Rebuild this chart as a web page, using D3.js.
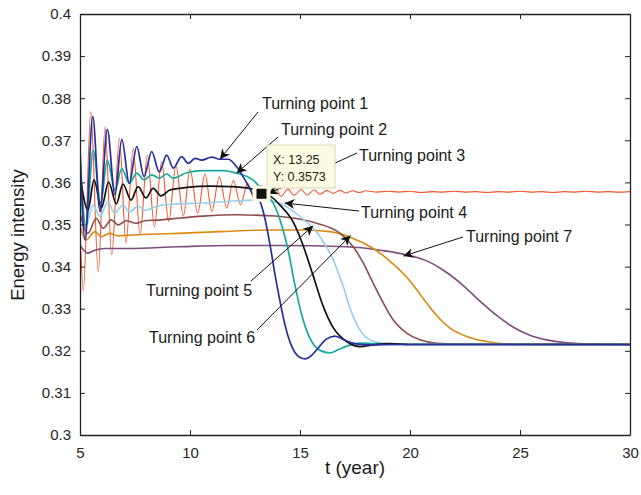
<!DOCTYPE html>
<html>
<head>
<meta charset="utf-8">
<script src="https://cdnjs.cloudflare.com/ajax/libs/d3/7.8.5/d3.min.js"></script>
<style>
  body { margin: 0; background: #fff; }
  svg { display: block; font-family: "Liberation Sans", Arial, sans-serif; }
</style>
</head>
<body>
<script>
var width = 641, height = 495;
var margin = {left: 80, top: 14, right: 11, bottom: 60};

// tick values
var xTicks = [5, 10, 15, 20, 25, 30];
var yTicks = [0.3, 0.31, 0.32, 0.33, 0.34, 0.35, 0.36, 0.37, 0.38, 0.39, 0.4];

// series, [t, energy intensity]
var redLine = [[5.0,0.349],[5.15,0.3342],[5.49,0.3768],[5.83,0.3388],[6.14,0.3732],[6.44,0.3428],[6.79,0.3705],
  [7.09,0.3456],[7.42,0.3681],[7.73,0.3475],[8.06,0.3665],[8.38,0.3495],[8.71,0.3649],[9.03,0.3507],[9.36,0.3639],
  [9.7,0.3520],[10.0,0.3631],[10.35,0.3527],[10.68,0.3620],[10.99,0.3531],[11.33,0.3613],[11.67,0.3539],
  [11.97,0.3605],[12.3,0.3547],[12.62,0.3598],[12.92,0.3559],[13.22,0.3593],[13.55,0.3566],[13.86,0.3587],
  [14.14,0.3567],[14.45,0.3584],[14.73,0.3569],[15.05,0.3583],[15.32,0.3570],[15.64,0.3582],[15.91,0.3572],
  [16.23,0.3581],[16.5,0.3574],[16.82,0.3581],[17.09,0.3575],[17.41,0.3580],[17.68,0.3576],[18.0,0.3580],
  [18.5,0.3577],[19.0,0.3579],[19.5,0.3577],[20.0,0.3579],[20.5,0.3576],[21.0,0.3578],[21.5,0.3577],[22.0,0.3579],
  [22.5,0.3577],[23.0,0.3578],[23.5,0.3576],[24.0,0.3578],[24.5,0.3577],[25.0,0.3579],[25.5,0.3577],[26.0,0.3578],
  [26.5,0.3576],[27.0,0.3578],[27.5,0.3577],[28.0,0.3579],[28.5,0.3577],[29.0,0.3578],[29.5,0.3577],[30.0,0.3578]];

var blueLine = [[5.0,0.368],[5.23,0.3463],[5.58,0.3756],[5.91,0.3531],[6.24,0.3726],[6.59,0.3570],[6.9,0.3702],
  [7.24,0.3598],[7.58,0.3685],[7.91,0.3614],[8.26,0.3673],[8.6,0.3625],[8.94,0.3665],[9.24,0.3634],[9.62,0.3661],
  [9.92,0.3645],[10.23,0.3657],[10.53,0.3653],[10.99,0.3660],[11.36,0.3655],[11.74,0.3655],[12.12,0.3637],
  [12.5,0.3606],[12.88,0.3570],[13.18,0.3555],[13.41,0.3513],[13.64,0.3451],[13.86,0.3382],[14.09,0.3318],
  [14.32,0.3261],[14.55,0.3220],[14.77,0.3196],[15.0,0.3184],[15.23,0.3181],[15.45,0.3186],[15.82,0.3206],
  [16.18,0.3227],[16.59,0.3235],[17.05,0.3225],[17.5,0.3217],[18.18,0.3214],[19.55,0.3215],[30.0,0.3215]];

var tealLine = [[5.0,0.3665],[5.27,0.3495],[5.6,0.3677],[5.94,0.3551],[6.24,0.3653],[6.59,0.3582],[6.9,0.3633],
  [7.24,0.3598],[7.58,0.3622],[7.91,0.3606],[8.26,0.3618],[8.6,0.3610],[8.94,0.3620],[9.24,0.3610],[9.85,0.3623],
  [10.6,0.3628],[11.51,0.3628],[12.12,0.3622],[12.73,0.3610],[12.95,0.3602],[13.26,0.3582],[13.49,0.3570],
  [13.79,0.3550],[14.09,0.3511],[14.47,0.3437],[14.77,0.3356],[15.08,0.3285],[15.45,0.3230],[15.91,0.3201],
  [16.36,0.3195],[16.75,0.3203],[17.12,0.3211],[17.73,0.3218],[18.49,0.3217],[19.55,0.3215],[30.0,0.3215]];

var blackLine = [[5.0,0.3618],[5.36,0.3534],[5.64,0.3606],[5.97,0.3539],[6.3,0.3601],[6.65,0.3549],[6.95,0.3596],
  [7.32,0.3558],[7.64,0.3590],[8.0,0.3563],[8.32,0.3586],[8.68,0.3568],[9.09,0.3582],[9.85,0.3588],[10.91,0.3591],
  [11.82,0.3590],[12.73,0.3586],[13.25,0.3573],[13.71,0.3565],[14.09,0.3546],[14.7,0.3505],[15.15,0.3449],
  [15.6,0.3378],[16.06,0.3305],[16.51,0.3255],[17.12,0.3222],[17.73,0.3210],[18.33,0.3214],[19.09,0.3217],
  [20.0,0.3215],[30.0,0.3215]];

var lightBlueLine = [[5.0,0.3565],[5.29,0.3499],[5.59,0.3546],[5.9,0.3519],[6.27,0.3554],[6.58,0.3527],[6.95,0.3546],
  [7.26,0.3530],[7.64,0.3544],[7.94,0.3534],[8.55,0.3544],[9.45,0.3549],[10.6,0.3551],[11.95,0.3556],[13.0,0.3558],
  [13.49,0.3557],[14.09,0.3550],[15.0,0.3519],[15.91,0.3471],[16.51,0.3416],[16.97,0.3352],[17.35,0.3290],
  [17.73,0.3249],[18.18,0.3226],[18.79,0.3218],[19.55,0.3216],[30.0,0.3215]];

var brownLine = [[5.0,0.3527],[5.36,0.3479],[5.74,0.3515],[6.05,0.3491],[6.42,0.3511],[6.73,0.3499],[7.1,0.3509],
  [7.56,0.3503],[7.94,0.3509],[8.7,0.3511],[9.45,0.3515],[10.6,0.3520],[12.12,0.3523],[13.49,0.3521],[14.09,0.3519],
  [15.76,0.3503],[16.82,0.3479],[17.42,0.3447],[17.88,0.3408],[18.33,0.3360],[18.79,0.3313],[19.24,0.3273],
  [19.85,0.3242],[20.45,0.3226],[21.21,0.3218],[22.27,0.3216],[30.0,0.3215]];

var orangeLine = [[5.0,0.3499],[5.27,0.3463],[5.67,0.3483],[5.97,0.3471],[6.35,0.3479],[6.73,0.3473],[7.33,0.3475],
  [8.24,0.3477],[9.45,0.3479],[11.36,0.3483],[13.64,0.3487],[15.15,0.3487],[16.36,0.3483],[17.42,0.3467],
  [18.33,0.3443],[19.24,0.3406],[20.0,0.3366],[20.6,0.3324],[21.21,0.3284],[21.82,0.3254],[22.58,0.3234],
  [23.49,0.3222],[24.4,0.3216],[30.0,0.3215]];

var purpleLine = [[5.0,0.3451],[5.36,0.3432],[5.67,0.3439],[6.12,0.3443],[7.18,0.3443],[9.45,0.3447],[11.82,0.3450],
  [14.09,0.3450],[17.12,0.3447],[18.64,0.3439],[19.85,0.3428],[20.91,0.3410],[21.67,0.3386],[22.42,0.3355],
  [23.18,0.3318],[23.94,0.3284],[24.7,0.3256],[25.45,0.3237],[26.21,0.3226],[27.12,0.3219],[28.48,0.3216],
  [30.0,0.3215]];

var seriesList = [
  {data: redLine, color: "#f2572d", w: 1.1},
  {data: purpleLine, color: "#7f4a7f", w: 1.6},
  {data: orangeLine, color: "#d98a12", w: 1.6},
  {data: brownLine, color: "#8c4c4c", w: 1.6},
  {data: lightBlueLine, color: "#94cff0", w: 1.6},
  {data: tealLine, color: "#17ab9f", w: 1.7},
  {data: blackLine, color: "#111111", w: 1.7},
  {data: blueLine, color: "#25309c", w: 1.7}
];

// turning point labels and arrow tips (data units)
var tpText = ["Turning point 1", "Turning point 2", "Turning point 3", "Turning point 4",
              "Turning point 5", "Turning point 6", "Turning point 7"];
var tpTip = [[11.36, 0.3655], [12.12, 0.3622], [13.55, 0.3573], [14.3, 0.3551],
             [15.6, 0.3497], [17.3, 0.3474], [19.7, 0.3425]];

var x = d3.scaleLinear().domain([5, 30]).range([margin.left, width - margin.right]);
var y = d3.scaleLinear().domain([0.3, 0.4]).range([height - margin.bottom, margin.top]);

var svg = d3.select("body").append("svg")
  .attr("width", width)
  .attr("height", height);

var defs = svg.append("defs");
defs.append("clipPath").attr("id", "plotClip")
  .append("rect")
  .attr("x", x(5)).attr("y", y(0.4))
  .attr("width", x(30) - x(5)).attr("height", y(0.3) - y(0.4));
defs.append("marker")
  .attr("id", "arrowHead")
  .attr("viewBox", "0 0 10 10")
  .attr("refX", 10).attr("refY", 5)
  .attr("markerWidth", 15).attr("markerHeight", 10)
  .attr("markerUnits", "userSpaceOnUse")
  .attr("orient", "auto")
  .append("path")
  .attr("d", "M0,0 L10,5 L0,10 L3,5 Z")
  .attr("fill", "#111");

// lines
var line = d3.line()
  .x(function(d) { return x(d[0]); })
  .y(function(d) { return y(d[1]); })
  .curve(d3.curveMonotoneX);

var plot = svg.append("g").attr("clip-path", "url(#plotClip)");
seriesList.forEach(function(s) {
  plot.append("path")
    .datum(s.data)
    .attr("fill", "none")
    .attr("stroke", s.color)
    .attr("stroke-width", s.w)
    .attr("stroke-linejoin", "round")
    .attr("d", line);
});

// axes: box with inward ticks on all sides
var tickLen = 5;
var axisColor = "#222";
var xAxis = svg.append("g").attr("transform", "translate(0," + y(0.3) + ")")
  .call(d3.axisBottom(x).tickValues(xTicks).tickSizeInner(-tickLen).tickSizeOuter(0).tickPadding(12));
var yAxis = svg.append("g").attr("transform", "translate(" + x(5) + ",0)")
  .call(d3.axisLeft(y).tickValues(yTicks).tickSizeInner(-tickLen).tickSizeOuter(0).tickPadding(9)
    .tickFormat(function(d) { return +d.toFixed(2); }));
var xTop = svg.append("g").attr("transform", "translate(0," + y(0.4) + ")")
  .call(d3.axisTop(x).tickValues(xTicks).tickSizeInner(-tickLen).tickSizeOuter(0).tickFormat(""));
var yRight = svg.append("g").attr("transform", "translate(" + x(30) + ",0)")
  .call(d3.axisRight(y).tickValues(yTicks).tickSizeInner(-tickLen).tickSizeOuter(0).tickFormat(""));

[xAxis, yAxis, xTop, yRight].forEach(function(a) {
  a.select(".domain").attr("stroke", axisColor).attr("stroke-width", 1.3);
  a.selectAll(".tick line").attr("stroke", axisColor);
  a.selectAll(".tick text").attr("fill", "#262626").style("font-size", "15px")
    .style("font-family", "'Liberation Sans', Arial, sans-serif");
});

// axis titles
svg.append("text")
  .attr("x", (x(5) + x(30)) / 2).attr("y", 474)
  .attr("text-anchor", "middle")
  .attr("fill", "#1a1a1a")
  .style("font-size", "19px")
  .text("t (year)");
svg.append("text")
  .attr("transform", "translate(24," + y(0.3475) + ") rotate(-90)")
  .attr("text-anchor", "middle")
  .attr("fill", "#1a1a1a")
  .style("font-size", "18.5px")
  .text("Energy intensity");

// annotations
var tpLabelPos = [[262, 109], [281, 135], [359, 161], [361, 218], [146, 296], [149, 343], [466, 242]];
var tpArrowStart = [[258, 112], [278, 137], [357, 153], [359, 211], [251, 281], [257, 330], [463, 237]];
var ann = svg.append("g");
tpText.forEach(function(t, i) {
  ann.append("line")
    .attr("x1", tpArrowStart[i][0]).attr("y1", tpArrowStart[i][1])
    .attr("x2", x(tpTip[i][0])).attr("y2", y(tpTip[i][1]))
    .attr("stroke", "#111").attr("stroke-width", 1)
    .attr("marker-end", "url(#arrowHead)");
  ann.append("text")
    .attr("x", tpLabelPos[i][0]).attr("y", tpLabelPos[i][1])
    .attr("fill", "#1a1a1a")
    .style("font-size", "16px")
    .text(t);
});

// data tip
var tipX = 13.25, tipY = 0.3573;
var tip = svg.append("g");
tip.append("rect")
  .attr("x", 267).attr("y", 145).attr("width", 68).attr("height", 43)
  .attr("fill", "#fcfbe1").attr("stroke", "#d8d4b8").attr("stroke-width", 1);
tip.append("rect")
  .attr("x", x(tipX) - 9).attr("y", y(tipY) - 8).attr("width", 18).attr("height", 16)
  .attr("fill", "#fcfbe1");
tip.append("rect")
  .attr("x", x(tipX) - 5).attr("y", y(tipY) - 5).attr("width", 10).attr("height", 10)
  .attr("fill", "#111");
tip.append("text").attr("x", 273).attr("y", 164).attr("fill", "#222").style("font-size", "12.5px")
  .text("X: " + tipX);
tip.append("text").attr("x", 273).attr("y", 181).attr("fill", "#222").style("font-size", "12.5px")
  .text("Y: " + tipY);
</script>
</body>
</html>
